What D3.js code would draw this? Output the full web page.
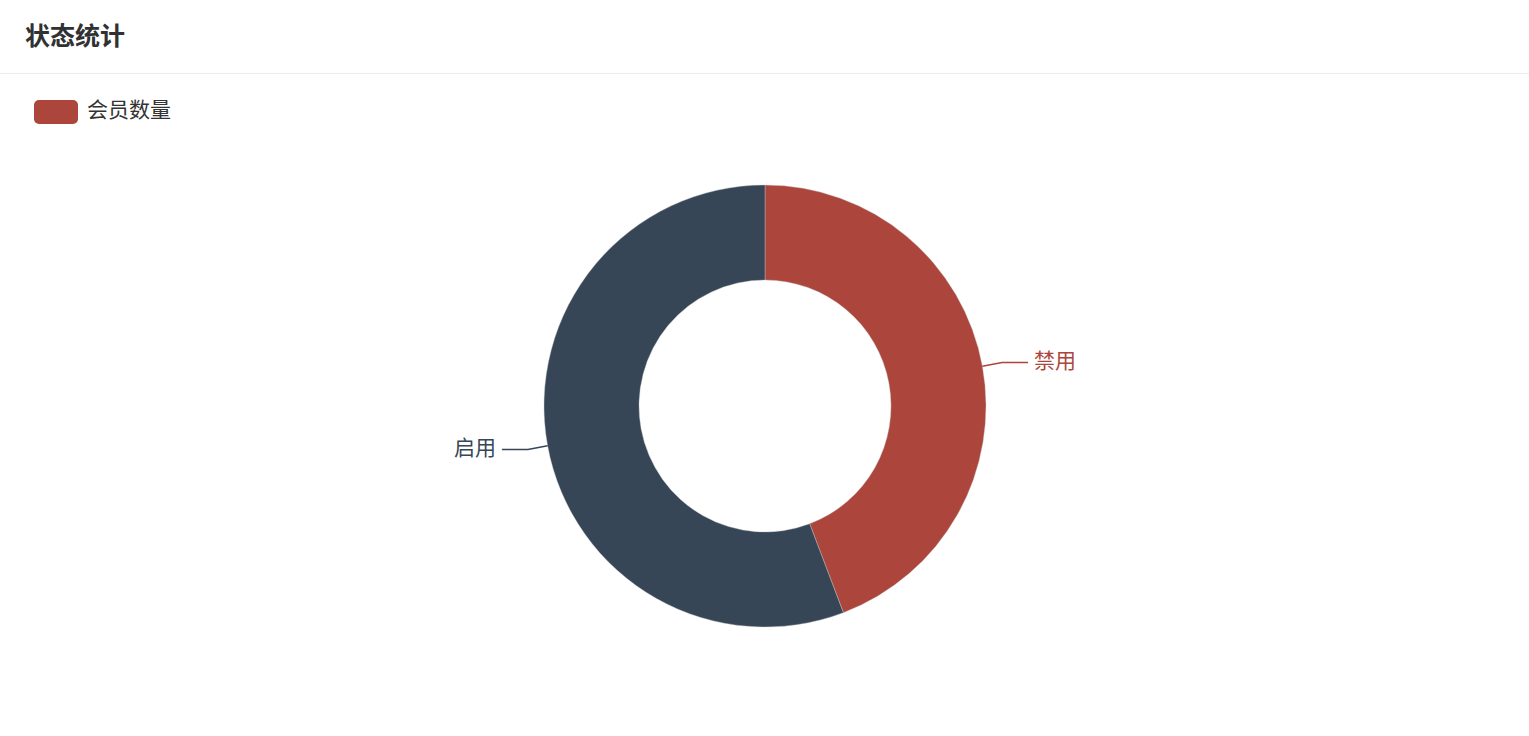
<!DOCTYPE html>
<html>
<head>
<meta charset="utf-8">
<script src="https://cdn.jsdelivr.net/npm/d3@7/dist/d3.min.js"></script>
<style>
  html, body { margin: 0; padding: 0; background: #fff; }
  svg { display: block; font-family: "Noto Sans CJK SC", "Noto Sans", sans-serif; }
</style>
</head>
<body>
<svg id="chart" width="1529" height="736"></svg>
<script>
const titleText = "状态统计";
const seriesName = "会员数量";
const categories = ["禁用", "启用"];
const values = [23, 29];
const colors = ["#ac453b", "#364656"];

const svg = d3.select("#chart");
const W = 1529, H = 736;

// card
svg.append("rect").attr("x", 0).attr("y", 0).attr("width", W).attr("height", H)
  .attr("fill", "#fff");
svg.append("line").attr("x1", 0).attr("x2", W).attr("y1", 73.5).attr("y2", 73.5)
  .attr("stroke", "#ececec").attr("stroke-width", 1);

svg.append("text").attr("x", 25).attr("y", 45)
  .attr("font-size", 25).attr("font-weight", "bold").attr("fill", "#303133")
  .text(titleText);

// legend
const lg = svg.append("g").attr("transform", "translate(34,100)");
lg.append("rect").attr("width", 44).attr("height", 24).attr("rx", 5).attr("fill", colors[0]);
lg.append("text").attr("x", 53).attr("y", 9.5).attr("dy", "0.36em")
  .attr("font-size", 21).attr("fill", "#333").text(seriesName);

// pie
const cx = 765, cy = 406, rOuter = 221, rInner = 126;
const g = svg.append("g").attr("transform", `translate(${cx},${cy})`);
const data = categories.map((c, i) => ({ name: c, value: values[i], color: colors[i] }));
const pie = d3.pie().sort(null).value(d => d.value);
const arcs = pie(data);
const arc = d3.arc().innerRadius(rInner).outerRadius(rOuter);

g.selectAll("path.slice").data(arcs).join("path")
  .attr("class", "slice")
  .attr("d", arc)
  .attr("fill", d => d.data.color)
  .attr("stroke", "#c8c8c8").attr("stroke-width", 0.4);

const len1 = 20, len2 = 26, gap = 6;
arcs.forEach(a => {
  const mid = (a.startAngle + a.endAngle) / 2;
  const sx = Math.sin(mid), sy = -Math.cos(mid);
  const p0 = [sx * rOuter, sy * rOuter];
  const p1 = [sx * (rOuter + len1), sy * (rOuter + len1)];
  const dir = sx >= 0 ? 1 : -1;
  const p2 = [p1[0] + dir * len2, p1[1]];
  g.append("polyline")
    .attr("points", [p0, p1, p2].map(p => p.join(",")).join(" "))
    .attr("fill", "none").attr("stroke", a.data.color).attr("stroke-width", 1.5);
  g.append("text")
    .attr("x", p2[0] + dir * gap).attr("y", p2[1] - 2.5).attr("dy", "0.36em")
    .attr("text-anchor", dir > 0 ? "start" : "end")
    .attr("font-size", 21).attr("fill", a.data.color)
    .text(a.data.name);
});
</script>
</body>
</html>
